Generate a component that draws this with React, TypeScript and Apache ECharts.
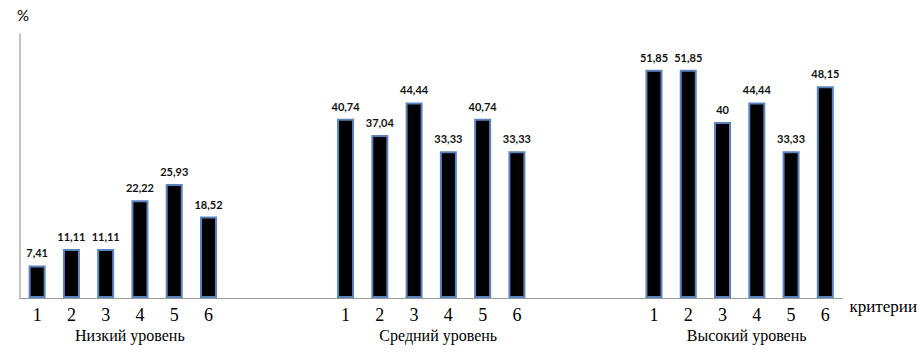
import React, { useEffect, useRef } from "react";
import * as echarts from "echarts";

const criteria = ["1", "2", "3", "4", "5", "6"];
const groupNames = ["Низкий уровень", "Средний уровень", "Высокий уровень"];
const lowValues = [7.41, 11.11, 11.11, 22.22, 25.93, 18.52];
const midValues = [40.74, 37.04, 44.44, 33.33, 40.74, 33.33];
const highValues = [51.85, 51.85, 40, 44.44, 33.33, 48.15];
const gapSlots = 3;

export default function App() {
  const ref = useRef<HTMLDivElement>(null);
  useEffect(() => {
    if (!ref.current) return;
    const chart = echarts.init(ref.current, null, { renderer: "svg" });
    const gap: string[] = Array(gapSlots).fill("");
    const labels = [...criteria, ...gap, ...criteria, ...gap, ...criteria];
    const gapData = Array(gapSlots).fill("-");
    const values = [...lowValues, ...gapData, ...midValues, ...gapData, ...highValues];
    const cats = labels.map((_, i) => String(i));
    const slotsTotal = labels.length;
    const groupSpan = criteria.length + gapSlots;
    chart.setOption({
      animation: false,
      grid: { left: 20, right: 77, top: 34, bottom: 57 },
      xAxis: [
        {
          type: "category",
          data: cats,
          axisLine: { show: true, lineStyle: { color: "#9a9a9a", width: 1 } },
          axisTick: { show: false },
          axisLabel: {
            interval: 0,
            margin: 8,
            fontFamily: "Liberation Serif",
            fontSize: 18,
            color: "#000",
            formatter: (v: string) => labels[Number(v)],
          },
          name: "критерии",
          nameLocation: "end",
          nameGap: 7,
          nameTextStyle: {
            fontFamily: "Liberation Serif",
            fontSize: 17,
            color: "#000",
            verticalAlign: "top",
            align: "left",
          },
        },
        {
          type: "value",
          position: "bottom",
          min: 0,
          max: slotsTotal,
          interval: 3,
          axisLine: { show: false },
          axisTick: { show: false },
          splitLine: { show: false },
          axisLabel: {
            margin: 29,
            fontFamily: "Liberation Serif",
            fontSize: 16,
            color: "#000",
            padding: [0, 0, 0, 14],
            formatter: (v: number) => {
              for (let g = 0; g < groupNames.length; g++) {
                if (v === g * groupSpan + criteria.length / 2) return groupNames[g];
              }
              return "";
            },
          },
        },
      ],
      yAxis: {
        type: "value",
        min: 0,
        max: 60,
        axisLine: { show: true, lineStyle: { color: "#c4c4c4", width: 2 } },
        axisTick: { show: false },
        axisLabel: { show: false },
        splitLine: { show: false },
        name: "%",
        nameLocation: "end",
        nameGap: 12,
        nameTextStyle: {
          fontFamily: "Lato",
          fontSize: 15,
          color: "#000",
          padding: [0, 0, 0, 6],
        },
      },
      series: [
        {
          type: "bar",
          xAxisIndex: 0,
          data: values,
          barWidth: 17,
          itemStyle: { color: "#000", borderColor: "#5b84bf", borderWidth: 2 },
          label: {
            show: true,
            position: "top",
            distance: 7,
            fontFamily: "Lato",
            fontWeight: "bold",
            fontSize: 11,
            color: "#111",
            formatter: (p: any) => String(p.value).replace(".", ","),
          },
        },
      ],
    });
    return () => chart.dispose();
  }, []);
  return (
    <div
      ref={ref}
      style={{ position: "fixed", left: 0, top: 0, width: 920, height: 355, background: "#fff" }}
    />
  );
}
